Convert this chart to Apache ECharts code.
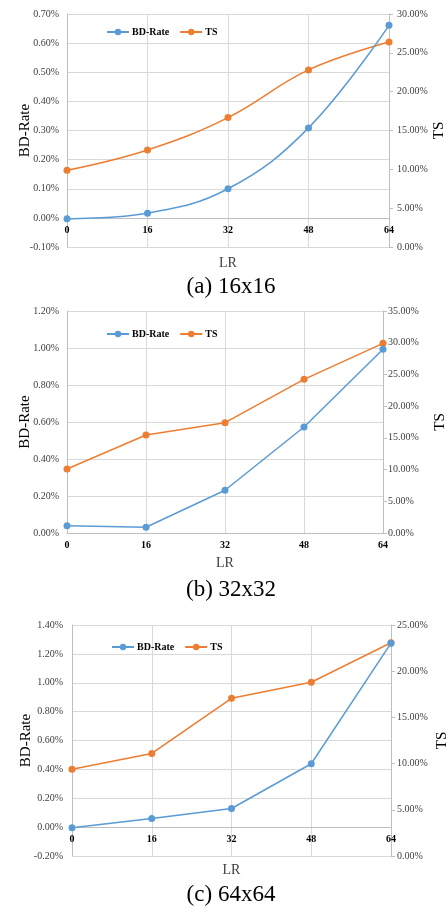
<!DOCTYPE html>
<html>
<head>
<meta charset="utf-8">
<script src="https://cdn.jsdelivr.net/npm/echarts@6/dist/echarts.min.js"></script>
<style>
html,body{margin:0;padding:0;background:#fff;}
#c{width:447px;height:909px;}
</style>
</head>
<body>
<div id="c"></div>
<script>
// ---- data (values in percent) ----
var lr = [0, 16, 32, 48, 64];
var xTicks = ['0', '16', '32', '48', '64'];
var bd16 = [-0.003, 0.016, 0.100, 0.309, 0.661];
var ts16 = [9.88, 12.50, 16.66, 22.80, 26.40];
var bd32 = [0.039, 0.031, 0.231, 0.573, 0.993];
var ts32 = [10.09, 15.45, 17.39, 24.23, 29.90];
var bd64 = [-0.004, 0.060, 0.129, 0.439, 1.274];
var ts64 = [9.38, 11.10, 17.07, 18.80, 23.08];
var captions = ['(a) 16x16', '(b) 32x32', '(c) 64x64'];
var seriesNames = ['BD-Rate', 'TS'];

var FONT = '"Liberation Serif", "Times New Roman", serif';
var BLUE = '#5B9BD5', ORANGE = '#ED7D31';
var GRID = '#d9d9d9', AXIS = '#bfbfbf', TXT = '#404040';

function pairs(v){ return lr.map(function(x,i){ return [x, v[i]]; }); }

var charts = [
  {grid:{left:67, right:58, top:14, height:233}, lmin:-0.1, lmax:0.7, lint:0.1, rmin:0, rmax:30, rint:5,
   lGap:34, rGap:43, xGap:38, lMargin:8, rMargin:8, bd:bd16, ts:ts16, smooth:0.4,
   legend:{left:101, top:22}, cap:{x:231, y:287}},
  {grid:{left:67, right:64, top:311, height:222}, lmin:0, lmax:1.2, lint:0.2, rmin:0, rmax:35, rint:5,
   lGap:34, rGap:50, xGap:23, lMargin:8, rMargin:5, bd:bd32, ts:ts32, smooth:false,
   legend:{left:101, top:324}, cap:{x:231, y:590}},
  {grid:{left:72, right:56, top:625, height:231}, lmin:-0.2, lmax:1.4, lint:0.2, rmin:0, rmax:25, rint:5,
   lGap:38, rGap:44, xGap:36, lMargin:9, rMargin:6, bd:bd64, ts:ts64, smooth:false,
   legend:{left:106, top:637}, cap:{x:231, y:895}}
];

var option = {
  animation:false,
  backgroundColor:'#fff',
  color:[BLUE, ORANGE],
  textStyle:{fontFamily:FONT},
  grid:[], xAxis:[], yAxis:[], series:[], legend:[], graphic:[]
};

charts.forEach(function(c, k){
  var g = c.grid; g.outerBoundsMode = 'none'; g.containLabel = false;
  option.grid.push(g);
  // distance (px) from the bottom of the plot to the zero line of the left axis
  var zeroOffset = -Math.round((0 - c.lmin) / (c.lmax - c.lmin) * g.height);
  option.xAxis.push({
    type:'value', gridIndex:k, min:0, max:64, interval:16, offset:zeroOffset,
    name:'LR', nameLocation:'middle', nameGap:c.xGap, nameMoveOverlap:false,
    nameTextStyle:{fontFamily:FONT, fontSize:14, color:TXT},
    axisLine:{show:true, onZero:false, lineStyle:{color:AXIS, width:1}},
    axisTick:{show:false},
    axisLabel:{fontFamily:FONT, fontSize:10, fontWeight:'bold', color:'#000', margin:7,
      formatter:function(v){ var i = lr.indexOf(v); return i >= 0 ? xTicks[i] : ''; }},
    splitLine:{show:true, lineStyle:{color:GRID, width:1}}
  });
  option.yAxis.push({
    type:'value', gridIndex:k, position:'left', min:c.lmin, max:c.lmax, interval:c.lint,
    name:'BD-Rate', nameLocation:'middle', nameGap:c.lGap, nameRotate:90, nameMoveOverlap:false,
    nameTextStyle:{fontFamily:FONT, fontSize:15, color:'#000'},
    axisLine:{show:true, onZero:false, lineStyle:{color:AXIS, width:1}},
    axisTick:{show:false},
    axisLabel:{fontFamily:FONT, fontSize:10, color:TXT, margin:c.lMargin,
      formatter:function(v){ return v.toFixed(2) + '%'; }},
    splitLine:{show:true, lineStyle:{color:GRID, width:1}}
  });
  option.yAxis.push({
    type:'value', gridIndex:k, position:'right', min:c.rmin, max:c.rmax, interval:c.rint,
    name:'TS', nameLocation:'middle', nameGap:c.rGap, nameRotate:90, nameMoveOverlap:false,
    nameTextStyle:{fontFamily:FONT, fontSize:15, color:'#000'},
    axisLine:{show:true, onZero:false, lineStyle:{color:AXIS, width:1}},
    axisTick:{show:true, inside:false, length:4, lineStyle:{color:AXIS}},
    axisLabel:{fontFamily:FONT, fontSize:10, color:TXT, margin:c.rMargin,
      formatter:function(v){ return v.toFixed(2) + '%'; }},
    splitLine:{show:false}
  });
  option.series.push({
    name:seriesNames[0], type:'line', xAxisIndex:k, yAxisIndex:2*k, data:pairs(c.bd),
    smooth:c.smooth, symbol:'circle', symbolSize:7,
    lineStyle:{color:BLUE, width:1.5}, itemStyle:{color:BLUE}, z:3
  });
  option.series.push({
    name:seriesNames[1], type:'line', xAxisIndex:k, yAxisIndex:2*k+1, data:pairs(c.ts),
    smooth:c.smooth, symbol:'circle', symbolSize:7,
    lineStyle:{color:ORANGE, width:1.5}, itemStyle:{color:ORANGE}, z:2
  });
  option.legend.push({
    left:c.legend.left, top:c.legend.top, orient:'horizontal',
    data:seriesNames, itemWidth:22, itemHeight:8, itemGap:10,
    textStyle:{fontFamily:FONT, fontSize:10, fontWeight:'bold', color:'#000', padding:[0,0,0,-2]},
    selectedMode:false
  });
  option.graphic.push({
    type:'text', x:c.cap.x, y:c.cap.y, silent:true,
    style:{text:captions[k], fill:'#000', font:'23px ' + FONT, align:'center', verticalAlign:'middle'}
  });
});

var chart = echarts.init(document.getElementById('c'), null, {renderer:'canvas'});
chart.setOption(option);
</script>
</body>
</html>
